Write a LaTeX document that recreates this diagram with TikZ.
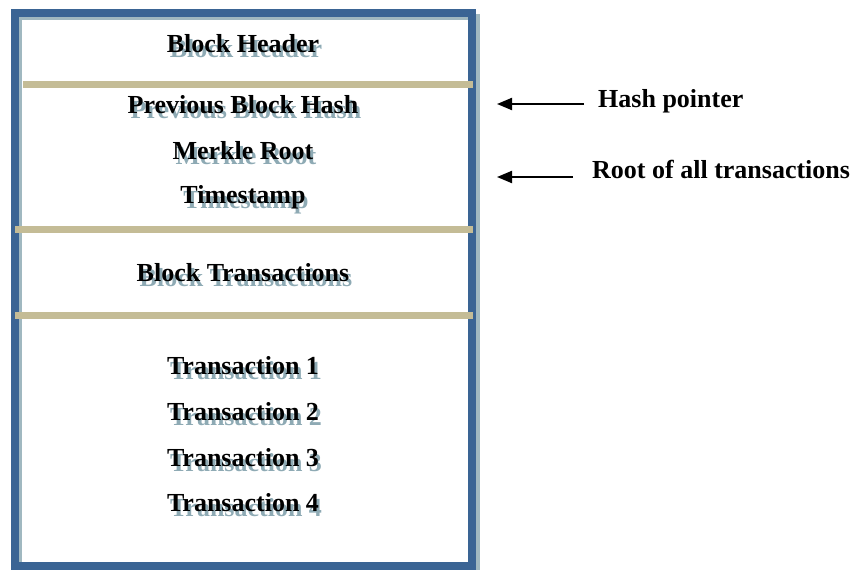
\documentclass[tikz,border=0pt]{standalone}
\usepackage{fontspec}
\setmainfont{Liberation Serif}
\usetikzlibrary{arrows.meta,calc}
\definecolor{frameblue}{HTML}{3A6494}
\definecolor{frameshadow}{HTML}{A0B8C0}
\definecolor{bartan}{HTML}{C4BC96}
\definecolor{txtshadow}{HTML}{8EAAB4}
\tikzset{
  lbl/.style={font=\bfseries\fontsize{26}{26}\selectfont, inner sep=0pt, anchor=center},
  sh/.style={lbl, text=txtshadow},
  side/.style={font=\bfseries\fontsize{26}{26}\selectfont, inner sep=0pt, anchor=west},
  bar/.style={bartan, line width=7pt},
  ptr/.style={line width=2pt, -{Triangle[length=15pt,width=12pt]}}
}
\newcommand{\shlabel}[3]{%
  \node[sh] at ($(#2)+(3,5)$) {#3};%
  \node[lbl] (#1) at (#2) {#3};}
\begin{document}
\begin{tikzpicture}[x=1pt,y=-1pt]
\useasboundingbox (0,0) rectangle (861,570);
% frame shadows
\fill[frameshadow] (476,14) rectangle (480,570);
\fill[frameshadow] (19,17) rectangle (22,562);
\fill[frameshadow] (19,17) rectangle (468,20);
% frame
\draw[frameblue, line width=8pt] (15,13) rectangle (472,565.5);
% bars
\draw[bar] (23,84) -- (473,84);
\draw[bar] (15,229) -- (473,229);
\draw[bar] (15,315) -- (473,315);
% labels
\shlabel{hdr}{243,44}{Block Header}
\shlabel{prev}{243,105}{Previous Block Hash}
\shlabel{merkle}{243,151}{Merkle Root}
\shlabel{ts}{243,197}{Timestamp}
\shlabel{btx}{243,273}{Block Transactions}
\shlabel{tx1}{243,366}{Transaction 1}
\shlabel{tx2}{243,412}{Transaction 2}
\shlabel{tx3}{243,458}{Transaction 3}
\shlabel{tx4}{243,503}{Transaction 4}
% side notes
\node[side] (hp) at (598,101) {Hash pointer};
\node[side] (rt) at (592,169) {Root of all transactions};
\coordinate (hpS) at (584,104);
\coordinate (hpE) at (497,104);
\coordinate (rtS) at (573,177);
\coordinate (rtE) at (497,177);
\draw[ptr] (hpS) -- (hpE);
\draw[ptr] (rtS) -- (rtE);
\end{tikzpicture}
\end{document}
